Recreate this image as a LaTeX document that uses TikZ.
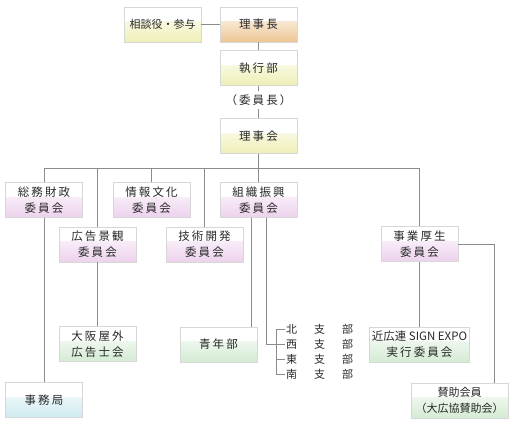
\documentclass[tikz,border=0pt]{standalone}
\usepackage{fontspec}
\newfontfamily\jpsp[LetterSpace=18]{Noto Sans CJK JP}
\newfontfamily\jpn{Noto Sans CJK JP}
\usetikzlibrary{calc,positioning}

\definecolor{txtgray}{RGB}{40,40,40}
\definecolor{linegray}{RGB}{140,140,140}
\definecolor{boxline}{RGB}{215,215,215}
\definecolor{yellowg}{RGB}{236,236,170}
\definecolor{orangeg}{RGB}{234,188,128}
\definecolor{pinkg}{RGB}{234,202,234}
\definecolor{greeng}{RGB}{204,232,204}
\definecolor{cyang}{RGB}{198,230,236}

\begin{document}
\begin{tikzpicture}[x=1pt,y=1pt,
    box/.style={draw=boxline, line width=0.8pt, fill=white,
        minimum width=77pt, minimum height=35pt, inner sep=2pt,
        align=center, text=txtgray,
        font=\jpsp\fontsize{11.5}{16}\selectfont,
        path picture={\shade[top color=white,bottom color=#1]
            ([yshift=-6pt]path picture bounding box.south west) rectangle
            ([yshift=20pt]path picture bounding box.south east);}},
    box/.default=yellowg,
    branch/.style={anchor=west, inner sep=1pt, text=txtgray,
        font=\jpn\fontsize{11}{12}\selectfont},
    link/.style={draw=linegray, line width=0.8pt}]
    \useasboundingbox (0,0) rectangle (517,-430);

    % Top
    \node[box=yellowg, font=\jpn\fontsize{11}{16}\selectfont] (sodan) at (162.5,-24.5) {相談役・参与};
    \node[box=orangeg] (richo) at (258.5,-24.5) {理事長};
    \node[box] (shikko) at (258.5,-68) {執行部};
    \node[text=txtgray, font=\jpsp\fontsize{11.5}{12}\selectfont] (iincho) at (258.5,-100) {（委員長）};
    \node[box] (rijikai) at (258.5,-136) {理事会};

    % Committees
    \node[box=pinkg] (somu) at (44,-200) {総務財政\\委員会};
    \node[box=pinkg] (joho) at (151.5,-200) {情報文化\\委員会};
    \node[box=pinkg] (soshiki) at (258.5,-200) {組織振興\\委員会};
    \node[box=pinkg] (kokoku) at (97.5,-244.5) {広告景観\\委員会};
    \node[box=pinkg] (gijutsu) at (204.5,-244.5) {技術開発\\委員会};
    \node[box=pinkg] (jigyo) at (419.5,-244) {事業厚生\\委員会};

    % Lower level
    \node[box=greeng] (osaka) at (97.5,-344) {大阪屋外\\広告士会};
    \node[box=greeng] (seinen) at (218.5,-344.5) {青年部};
    \node[box=greeng, minimum width=100pt] (expo) at (419.5,-344.5) {{\jpn 近広連 SIGN EXPO}\\実行委員会};
    \node[box=greeng, minimum width=97pt, font=\jpn\fontsize{11}{16}\selectfont] (sanjo) at (459.5,-400.5) {賛助会員\\（大広協賛助会）};
    \node[box=cyang] (jimu) at (44,-400) {事務局};

    % Branches
    \node[branch] (kita) at (285,-329) {北\hspace{17pt}支\hspace{17pt}部};
    \node[branch] (nishi) at (285,-344) {西\hspace{17pt}支\hspace{17pt}部};
    \node[branch] (higashi) at (285,-359) {東\hspace{17pt}支\hspace{17pt}部};
    \node[branch] (minami) at (285,-374) {南\hspace{17pt}支\hspace{17pt}部};

    % Connectors
    \coordinate (bus) at (0,-168);
    \coordinate (fork) at ([xshift=-9pt]nishi.west);
    \coordinate (sanjoin) at ([xshift=34.5pt]sanjo.north);
    \draw[link] (sodan) -- (richo);
    \draw[link] (richo) -- (shikko) -- (iincho) -- (rijikai);
    \draw[link] (rijikai) -- (rijikai |- bus);
    \draw[link] (somu) -- (somu |- bus) -- (jigyo |- bus) -- (jigyo);
    \foreach \n in {joho,soshiki,kokoku,gijutsu}
        \draw[link] (\n) -- (\n |- bus);
    \draw[link] (somu) -- (jimu);
    \draw[link] (kokoku) -- (osaka);
    \draw[link] (jigyo) -- (expo);
    \draw[link] (jigyo.east) -| (sanjoin);
    \draw[link] ([xshift=-7.5pt]soshiki.south) -- ([xshift=-7.5pt]soshiki.south |- seinen.north);
    \draw[link] ([xshift=7.5pt]soshiki.south) |- (fork);
    \draw[link] (fork |- kita) -- (fork |- minami);
    \foreach \n in {kita,nishi,higashi,minami}
        \draw[link] (fork |- \n) -- (\n.west);
\end{tikzpicture}
\end{document}
